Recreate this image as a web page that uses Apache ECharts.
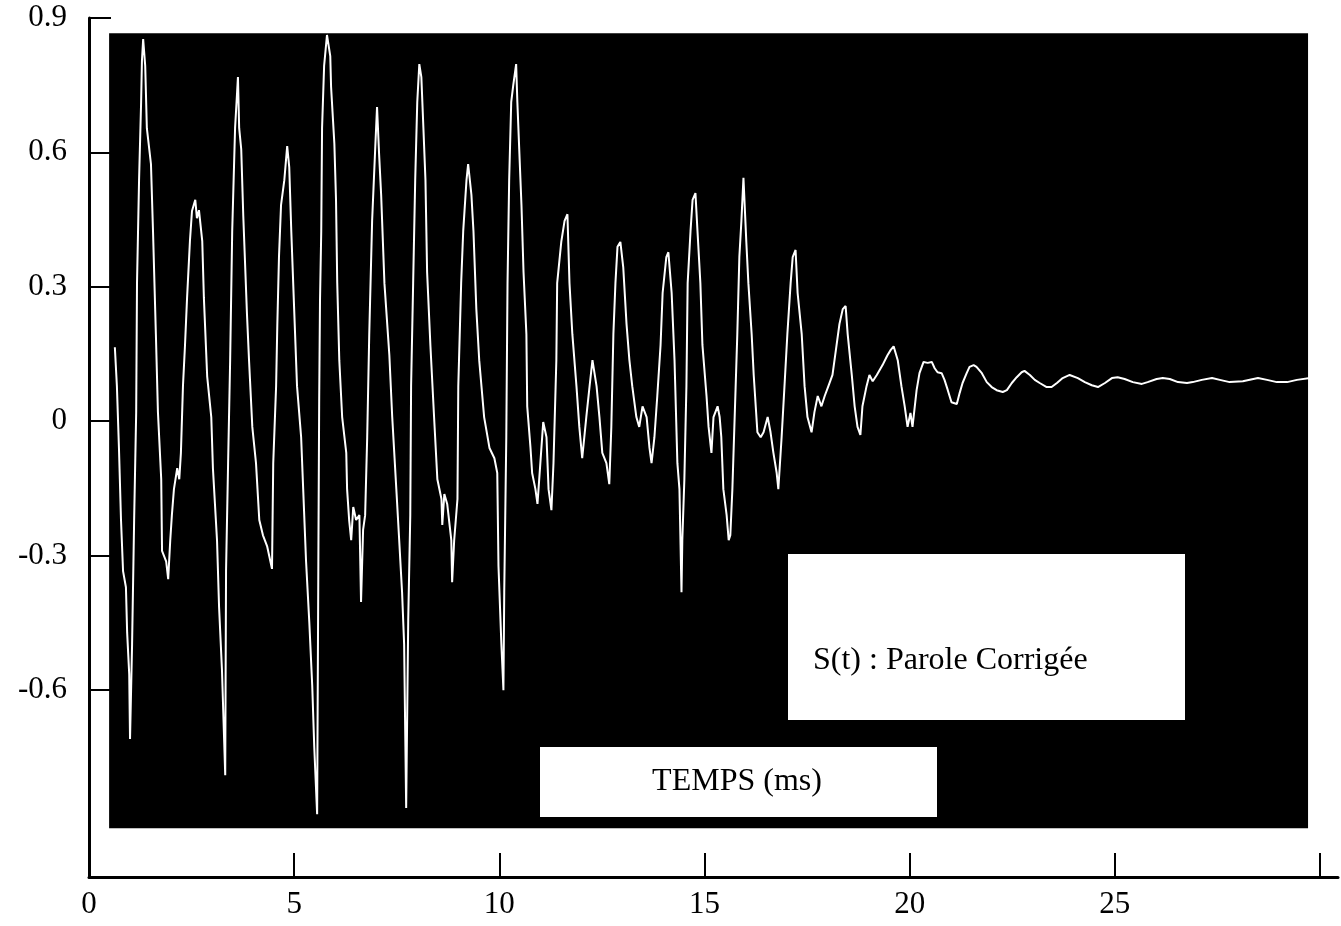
<!DOCTYPE html>
<html>
<head>
<meta charset="utf-8">
<script src="https://cdn.jsdelivr.net/npm/echarts@6/dist/echarts.min.js"></script>
<style>
html,body{margin:0;padding:0;background:#fff;}
#chart{width:1341px;height:926px;}
</style>
</head>
<body>
<div id="chart"></div>
<script>
// time in ms
const time = [0.63,0.68,0.73,0.78,0.83,0.90,0.93,0.98,1.00,1.05,1.10,1.15,1.17,1.22,1.27,1.29,1.32,1.37,1.41,1.51,
1.56,1.63,1.68,1.76,1.78,1.88,1.93,1.98,2.02,2.07,2.15,2.20,2.24,2.29,2.34,2.39,2.46,2.51,2.59,2.63,
2.68,2.76,2.80,2.88,2.98,3.02,3.12,3.17,3.24,3.32,3.34,3.39,3.44,3.49,3.56,3.61,3.63,3.66,3.71,3.76,
3.85,3.90,3.98,4.07,4.15,4.24,4.34,4.46,4.49,4.56,4.59,4.63,4.68,4.76,4.83,4.88,4.93,5.00,5.07,5.17,
5.22,5.29,5.37,5.44,5.49,5.56,5.59,5.61,5.63,5.66,5.68,5.73,5.80,5.88,5.90,5.98,6.02,6.05,6.10,6.17,
6.27,6.29,6.34,6.39,6.44,6.51,6.59,6.63,6.68,6.73,6.78,6.83,6.90,6.98,7.02,7.07,7.12,7.20,7.32,7.39,
7.49,7.56,7.63,7.68,7.73,7.78,7.83,7.85,7.90,7.95,8.00,8.05,8.10,8.15,8.20,8.24,8.32,8.41,8.49,8.59,
8.61,8.66,8.73,8.83,8.85,8.90,8.98,9.00,9.07,9.12,9.20,9.24,9.32,9.37,9.44,9.51,9.63,9.76,9.88,9.95,
9.98,10.05,10.10,10.12,10.17,10.20,10.24,10.29,10.34,10.41,10.44,10.49,10.54,10.59,10.66,10.68,10.76,10.80,10.88,10.93,
11.00,11.07,11.15,11.20,11.27,11.32,11.39,11.41,11.51,11.59,11.66,11.71,11.78,11.88,11.95,12.02,12.12,12.20,12.27,12.37,
12.44,12.51,12.61,12.68,12.73,12.78,12.83,12.88,12.95,13.02,13.10,13.17,13.24,13.34,13.41,13.49,13.59,13.66,13.71,13.78,
13.85,13.93,13.98,14.07,14.12,14.20,14.27,14.34,14.39,14.44,14.46,14.51,14.56,14.59,14.66,14.71,14.78,14.83,14.90,14.95,
15.05,15.10,15.17,15.22,15.32,15.37,15.41,15.46,15.54,15.59,15.63,15.68,15.76,15.80,15.85,15.90,15.95,16.02,16.07,16.15,
16.20,16.29,16.37,16.44,16.54,16.61,16.68,16.76,16.80,16.88,16.95,17.02,17.10,17.15,17.22,17.27,17.37,17.44,17.51,17.61,
17.68,17.76,17.85,17.93,18.02,18.12,18.22,18.29,18.37,18.44,18.49,18.59,18.66,18.73,18.80,18.85,18.95,19.02,19.10,19.20,
19.27,19.34,19.46,19.54,19.61,19.71,19.80,19.88,19.95,20.02,20.07,20.17,20.24,20.34,20.44,20.54,20.61,20.68,20.78,20.85,
20.93,21.02,21.15,21.22,21.29,21.39,21.46,21.56,21.63,21.76,21.88,22.00,22.12,22.27,22.37,22.49,22.61,22.73,22.80,22.93,
23.05,23.17,23.34,23.46,23.59,23.73,23.90,24.10,24.27,24.44,24.59,24.76,24.93,25.07,25.24,25.44,25.66,25.80,26.02,26.17,
26.34,26.54,26.76,26.90,27.12,27.37,27.56,27.80,28.12,28.49,28.71,28.95,29.20,29.44,29.76];

// S(t) amplitude
const amp = [0.165,0.078,-0.060,-0.221,-0.335,-0.371,-0.473,-0.565,-0.710,-0.498,-0.221,0.020,0.308,0.538,0.712,0.804,0.853,0.793,0.654,0.574,
0.424,0.194,0.020,-0.130,-0.290,-0.313,-0.353,-0.266,-0.210,-0.152,-0.105,-0.130,-0.071,0.078,0.170,0.275,0.402,0.469,0.494,0.453,
0.471,0.402,0.275,0.100,0.009,-0.105,-0.266,-0.415,-0.554,-0.791,-0.335,-0.094,0.136,0.424,0.654,0.735,0.768,0.654,0.607,0.458,
0.239,0.136,-0.013,-0.094,-0.221,-0.255,-0.279,-0.330,-0.094,0.078,0.217,0.366,0.482,0.538,0.614,0.567,0.424,0.250,0.078,-0.036,
-0.152,-0.313,-0.451,-0.590,-0.728,-0.878,-0.310,0.047,0.270,0.424,0.654,0.793,0.862,0.815,0.746,0.619,0.494,0.308,0.136,0.009,
-0.071,-0.152,-0.221,-0.266,-0.192,-0.221,-0.210,-0.404,-0.243,-0.210,-0.036,0.194,0.447,0.619,0.701,0.596,0.505,0.308,0.147,0.009,
-0.152,-0.266,-0.382,-0.498,-0.864,-0.444,-0.210,0.078,0.308,0.538,0.712,0.797,0.768,0.654,0.538,0.333,0.170,0.009,-0.130,-0.174,
-0.232,-0.163,-0.185,-0.266,-0.360,-0.266,-0.174,0.078,0.308,0.424,0.538,0.574,0.505,0.424,0.250,0.136,0.009,-0.060,-0.083,-0.116,
-0.324,-0.498,-0.601,-0.382,-0.036,0.308,0.538,0.712,0.750,0.797,0.712,0.596,0.482,0.333,0.194,0.033,-0.060,-0.116,-0.152,-0.185,
-0.094,-0.002,-0.036,-0.152,-0.199,-0.094,0.136,0.308,0.400,0.447,0.462,0.308,0.194,0.078,-0.013,-0.083,0.009,0.078,0.136,0.078,
0.009,-0.071,-0.094,-0.141,-0.013,0.194,0.308,0.389,0.400,0.344,0.217,0.136,0.078,0.009,-0.013,0.033,0.009,-0.060,-0.094,-0.036,
0.056,0.170,0.286,0.366,0.377,0.286,0.136,-0.094,-0.152,-0.382,-0.266,-0.130,0.078,0.308,0.424,0.494,0.509,0.424,0.308,0.170,
0.056,-0.013,-0.071,0.009,0.033,0.009,-0.036,-0.152,-0.210,-0.266,-0.255,-0.152,0.078,0.194,0.366,0.447,0.543,0.400,0.308,0.194,
0.103,-0.025,-0.036,-0.025,0.009,-0.025,-0.071,-0.116,-0.152,-0.036,0.078,0.194,0.308,0.366,0.382,0.286,0.194,0.078,0.009,-0.025,
0.020,0.056,0.033,0.056,0.078,0.103,0.170,0.217,0.250,0.257,0.194,0.103,0.033,-0.013,-0.031,0.033,0.078,0.103,0.089,0.103,
0.114,0.125,0.147,0.159,0.167,0.136,0.078,0.033,-0.013,0.018,-0.013,0.069,0.107,0.132,0.130,0.132,0.118,0.109,0.107,0.092,
0.069,0.042,0.038,0.063,0.085,0.107,0.121,0.125,0.121,0.107,0.087,0.076,0.069,0.065,0.069,0.085,0.098,0.109,0.112,0.103,
0.092,0.085,0.076,0.076,0.085,0.096,0.103,0.096,0.087,0.080,0.076,0.085,0.096,0.098,0.094,0.087,0.083,0.087,0.094,0.096,
0.094,0.087,0.085,0.087,0.092,0.096,0.092,0.087,0.089,0.096,0.092,0.087,0.087,0.092,0.096];

const xTicks = [0, 5, 10, 15, 20, 25, 30];
const xTickLabels = ['0', '5', '10', '15', '20', '25', ''];
const yTicks = [-0.6, -0.3, 0, 0.3, 0.6, 0.9];
const yTickLabels = ['-0.6', '-0.3', '0', '0.3', '0.6', '0.9'];
// extent of the dark plotting panel, in data units
const panelTime = [0.49, 29.71];
const panelAmp = [-0.909, 0.866];
const axisTitle = 'TEMPS (ms)';
const seriesLabel = 'S(t) : Parole Corrigée';

const wave = time.map((t, i) => [t, amp[i]]);
const serif = '"Liberation Serif", "DejaVu Serif", serif';

const chart = echarts.init(document.getElementById('chart'), null, {renderer: 'canvas'});
chart.setOption({
  animation: false,
  backgroundColor: '#ffffff',
  grid: {left: 89, right: 3, top: 18, bottom: 49, containLabel: false},
  xAxis: {
    type: 'value', min: 0, max: 30.44,
    axisLine: {onZero: false, lineStyle: {color: '#000', width: 3}},
    axisTick: {inside: true, length: 24, customValues: xTicks, lineStyle: {color: '#000', width: 2}},
    axisLabel: {
      customValues: xTicks,
      formatter: v => xTickLabels[xTicks.indexOf(Math.round(v))] ?? '',
      color: '#000', fontFamily: serif, fontSize: 31, margin: 12
    },
    splitLine: {show: false}
  },
  yAxis: {
    type: 'value', min: -1.018, max: 0.9,
    axisLine: {onZero: false, lineStyle: {color: '#000', width: 3}},
    axisTick: {inside: true, length: 22, customValues: yTicks, lineStyle: {color: '#000', width: 2}},
    axisLabel: {
      customValues: yTicks,
      formatter: v => { const i = yTicks.findIndex(k => Math.abs(k - v) < 1e-6); return i >= 0 ? yTickLabels[i] : ''; },
      color: '#000', fontFamily: serif, fontSize: 31, margin: 22
    },
    splitLine: {show: false}
  },
  series: [
    {
      type: 'line', data: [], z: 1, silent: true,
      markArea: {
        silent: true,
        itemStyle: {color: '#000', borderWidth: 0},
        data: [[{coord: [panelTime[0], panelAmp[1]]}, {coord: [panelTime[1], panelAmp[0]]}]]
      }
    },
    {
      type: 'line', data: wave, z: 5, showSymbol: false, silent: true,
      lineStyle: {color: '#ffffff', width: 2},
      clip: false
    }
  ],
  graphic: [
    {type: 'rect', left: 540, top: 747, z: 100, shape: {width: 397, height: 70}, style: {fill: '#fff'}},
    {type: 'text', x: 737, y: 782, z: 101, style: {text: axisTitle, font: '32px ' + serif, fill: '#000', textAlign: 'center', textVerticalAlign: 'middle'}},
    {type: 'rect', left: 788, top: 554, z: 100, shape: {width: 397, height: 166}, style: {fill: '#fff'}},
    {type: 'text', x: 813, y: 661, z: 101, style: {text: seriesLabel, font: '32px ' + serif, fill: '#000', textAlign: 'left', textVerticalAlign: 'middle'}}
  ]
});
</script>
</body>
</html>
